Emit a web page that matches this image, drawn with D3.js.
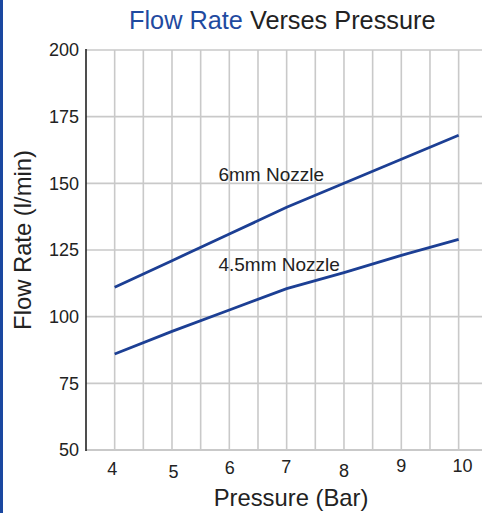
<!DOCTYPE html>
<html><head><meta charset="utf-8">
<script src="https://cdn.jsdelivr.net/npm/d3@7"></script>
<style>
html,body{margin:0;padding:0;background:#fff;}
svg{display:block;font-family:"Liberation Sans",Arial,Helvetica,sans-serif;}
</style></head>
<body>
<svg id="chart" width="482" height="513"></svg>
<script>
const pressure = [4, 5, 6, 7, 8, 9, 10];
const flow6mm = [111, 121, 131, 141, 150, 159, 168];
const flow45mm = [86, 94.5, 102.5, 110.5, 116.5, 123, 129];
const seriesNames = ["6mm Nozzle", "4.5mm Nozzle"];
const yTicks = [50, 75, 100, 125, 150, 175, 200];
const xTicks = [4, 5, 6, 7, 8, 9, 10];
const xGrid = [4, 4.5, 5, 5.5, 6, 6.5, 7, 7.5, 8, 8.5, 9, 9.5, 10, 10.5];

// label style offsets (visual stagger in the original)
const xLabelDx = [-2.5, 1.5, 0.5, -0.5, 0, 0, 4];
const xLabelDy = [0, 2.5, -1, -2, 1.5, -3.5, -3.5];

const svg = d3.select("#chart");
const W = 482, H = 513;
const x = d3.scaleLinear().domain([3.5, 10.5]).range([86, 487.3]);
const y = d3.scaleLinear().domain([50, 200]).range([450, 50]);

const blue = "#1c3f94";
const grid = "#c9c9c9";

// left border stripe
svg.append("rect").attr("x", 0).attr("y", 0).attr("width", 3).attr("height", H).attr("fill", "#1a47a0");

// gridlines
svg.append("g").selectAll("line").data(xGrid).join("line")
  .attr("x1", d => x(d)).attr("x2", d => x(d))
  .attr("y1", y(200)).attr("y2", y(50))
  .attr("stroke", grid).attr("stroke-width", 1.6);
svg.append("g").selectAll("line").data(yTicks.filter(d => d > 50)).join("line")
  .attr("x1", x(3.5)).attr("x2", W)
  .attr("y1", d => y(d)).attr("y2", d => y(d))
  .attr("stroke", grid).attr("stroke-width", 1.6);
// bottom axis line
svg.append("line").attr("x1", x(3.5)).attr("x2", W).attr("y1", y(50)).attr("y2", y(50))
  .attr("stroke", grid).attr("stroke-width", 2);
// left axis line
svg.append("line").attr("x1", x(3.5)).attr("x2", x(3.5)).attr("y1", y(200) - 1).attr("y2", y(50) + 1)
  .attr("stroke", "#222").attr("stroke-width", 1.6);

// y tick labels
svg.append("g").selectAll("text").data(yTicks).join("text")
  .attr("x", x(3.5) - 7).attr("y", d => y(d)).attr("dy", "0.36em")
  .attr("text-anchor", "end").attr("font-size", 18).attr("fill", "#222")
  .text(d => d);

// x tick labels
svg.append("g").selectAll("text").data(xTicks).join("text")
  .attr("x", (d, i) => x(d) + xLabelDx[i]).attr("y", (d, i) => 475 + xLabelDy[i])
  .attr("text-anchor", "middle").attr("font-size", 18).attr("fill", "#222")
  .text(d => d);

// lines
const line = d3.line().x(d => x(d[0])).y(d => y(d[1]));
[flow6mm, flow45mm].forEach(vals => {
  svg.append("path").datum(pressure.map((p, i) => [p, vals[i]]))
    .attr("d", line).attr("fill", "none").attr("stroke", blue)
    .attr("stroke-width", 2.8).attr("stroke-linecap", "butt");
});

// series labels
const labelPos = [[5.81, 150.9], [5.81, 117.2]];
svg.append("g").selectAll("text").data(seriesNames).join("text")
  .attr("x", (d, i) => x(labelPos[i][0])).attr("y", (d, i) => y(labelPos[i][1]))
  .attr("font-size", 19).attr("fill", "#222").text(d => d);

// title
const t = svg.append("text").attr("x", 129).attr("y", 29).attr("font-size", 25.3).attr("fill", "#222");
t.append("tspan").attr("fill", "#1f4aa0").text("Flow Rate");
t.append("tspan").text(" Verses Pressure");

// axis titles
svg.append("text").attr("x", 291).attr("y", 506).attr("text-anchor", "middle")
  .attr("font-size", 23.8).attr("fill", "#222").text("Pressure (Bar)");
svg.append("text").attr("transform", "translate(31,240) rotate(-90)").attr("text-anchor", "middle")
  .attr("font-size", 23.8).attr("fill", "#222").text("Flow Rate (l/min)");
</script>
</body></html>
